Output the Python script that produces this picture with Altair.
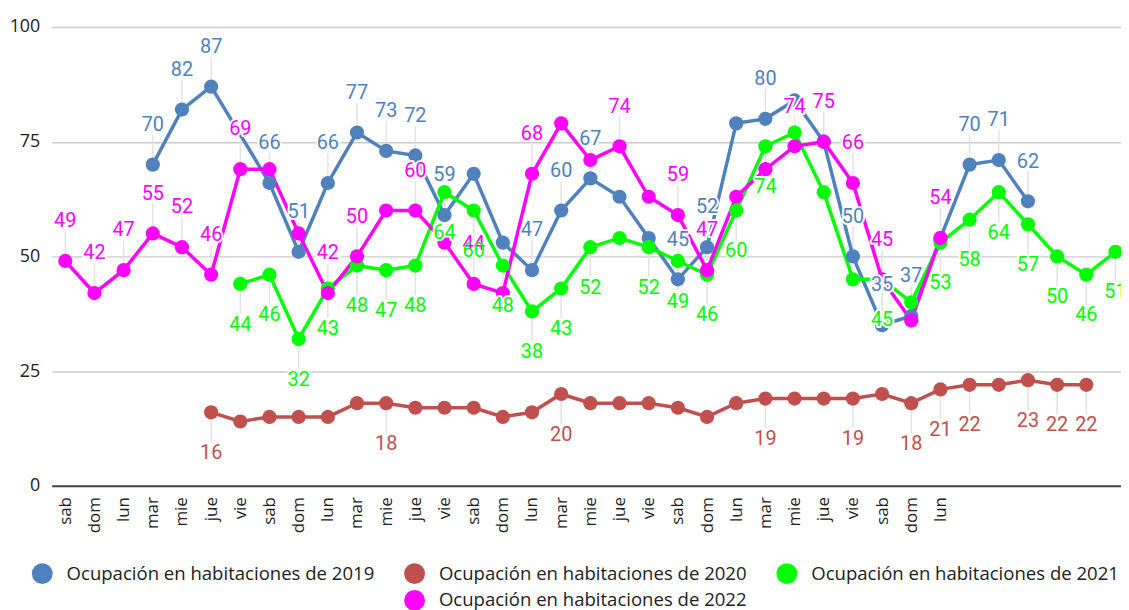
import json
import altair as alt
import pandas as pd

# ---- data ----
x_labels = ["sab", "dom", "lun", "mar", "mie", "jue", "vie",
            "sab", "dom", "lun", "mar", "mie", "jue", "vie",
            "sab", "dom", "lun", "mar", "mie", "jue", "vie",
            "sab", "dom", "lun", "mar", "mie", "jue", "vie",
            "sab", "dom", "lun", "", "", "", "", "", ""]

series_names = ["Ocupación en habitaciones de 2019",
                "Ocupación en habitaciones de 2020",
                "Ocupación en habitaciones de 2021",
                "Ocupación en habitaciones de 2022"]

v2019 = [None, None, None, 70, 82, 87, None, 66, 51, 66, 77, 73, 72, 59, 68, 53, 47, 60,
         67, 63, 54, 45, 52, 79, 80, 84, 75, 50, 35, 37, 54, 70, 71, 62, None, None, None]
v2020 = [None, None, None, None, None, 16, 14, 15, 15, 15, 18, 18, 17, 17, 17, 15, 16, 20,
         18, 18, 18, 17, 15, 18, 19, 19, 19, 19, 20, 18, 21, 22, 22, 23, 22, 22, None]
v2021 = [None, None, None, None, None, None, 44, 46, 32, 43, 48, 47, 48, 64, 60, 48, 38, 43,
         52, 54, 52, 49, 46, 60, 74, 77, 64, 45, 45, 40, 53, 58, 64, 57, 50, 46, 51]
v2022 = [49, 42, 47, 55, 52, 46, 69, 69, 55, 42, 50, 60, 60, 53, 44, 42, 68, 79,
         71, 74, 63, 59, 47, 63, 69, 74, 75, 66, 45, 36, 54, None, None, None, None, None, None]

# indices whose value annotation is not shown in the reference
hidden2019 = [14, 15, 19, 20, 23, 25, 26, 30]
hidden2020 = [6, 7, 8, 9, 10, 12, 13, 14, 15, 16, 18, 19, 20, 21, 22, 23, 25, 26, 28, 32]
hidden2021 = [19, 25, 26, 27, 29]
hidden2022 = [7, 8, 11, 13, 15, 17, 18, 20, 23, 24, 29]

colors = ["#4f81bd", "#c0504d", "#00ff00", "#ff00ff"]
label_side = ["above", "below", "below", "above"]

# ---- build long table ----
rows = []
for s, (name, vals, hid, side) in enumerate(zip(
        series_names, [v2019, v2020, v2021, v2022],
        [hidden2019, hidden2020, hidden2021, hidden2022], label_side)):
    for i, v in enumerate(vals):
        if v is None:
            continue
        rows.append({"idx": i, "value": v, "serie": name, "s": s,
                     "show": i not in hid, "side": side, "txt": str(v)})
df = pd.DataFrame(rows)

# legend domain holds an empty slot so that 2022 sits under 2020 (centred second row)
dummy = " "
leg_dom = series_names[:3] + [dummy] + series_names[3:]
leg_rng = colors[:3] + ["transparent"] + colors[3:]

xscale = alt.Scale(domain=[-0.466, 36.19], nice=False, zero=False)
yscale = alt.Scale(domain=[0, 100], nice=False)

label_js = json.dumps(x_labels)
X = alt.X("idx:Q", scale=xscale,
          axis=alt.Axis(values=list(range(37)), labelExpr=f"{label_js}[datum.value]",
                        ticks=False, grid=False, domain=True, domainColor="#444444",
                        domainWidth=2, labelAngle=-90, labelFont="Open Sans",
                        labelFontSize=17, labelColor="#222222", labelPadding=11,
                        labelOverlap=False, labelFlush=False, labelBound=False,
                        title=None))
Y = alt.Y("value:Q", scale=yscale,
          axis=alt.Axis(values=[0, 25, 50, 75, 100], ticks=False, domain=False,
                        grid=True, gridColor="#cccccc", gridWidth=1.5,
                        labelFont="Open Sans", labelFontSize=18, labelColor="#222222",
                        labelPadding=12, title=None))
Y2 = alt.Y2("value:Q")

base = alt.Chart(df)

stems_up = base.transform_filter("datum.show && datum.side == 'above'").mark_rule(
    color="#e3e3e3", strokeWidth=1.5, y2Offset=-30).encode(x=X, y=Y, y2=Y2)
stems_dn = base.transform_filter("datum.show && datum.side == 'below'").mark_rule(
    color="#e3e3e3", strokeWidth=1.5, y2Offset=30).encode(x=X, y=Y, y2=Y2)

lines = base.mark_line(strokeWidth=3.5).encode(
    x=X, y=Y,
    stroke=alt.Stroke("serie:N", scale=alt.Scale(domain=series_names, range=colors),
                      legend=None),
    order="idx:Q")

points = base.mark_circle(size=205, opacity=1).encode(
    x=X, y=Y,
    color=alt.Color("serie:N", scale=alt.Scale(domain=leg_dom, range=leg_rng),
                    legend=alt.Legend(title=None, orient="none", legendX=-20, legendY=540,
                                      direction="horizontal", columns=3,
                                      symbolType="circle", symbolSize=441,
                                      symbolStrokeWidth=0, labelFont="Open Sans",
                                      labelFontSize=18.7, labelColor="#222222",
                                      labelOffset=14, labelLimit=500, columnPadding=30,
                                      rowPadding=6, padding=0)),
    order="s:Q")

def txt_layer(side, dy, aura):
    t = base.transform_filter(f"datum.show && datum.side == '{side}'")
    if aura:
        m = t.mark_text(font="Roboto", fontSize=20, dy=dy, baseline="middle",
                        fill="white", stroke="white", strokeWidth=4, strokeJoin="round")
        return m.encode(x=X, y=Y, text="txt:N")
    m = t.mark_text(font="Roboto", fontSize=20, dy=dy, baseline="middle")
    return m.encode(x=X, y=Y, text="txt:N",
                    fill=alt.Fill("serie:N",
                                  scale=alt.Scale(domain=series_names, range=colors),
                                  legend=None))

chart = alt.layer(
    stems_up, stems_dn, lines, points,
    txt_layer("above", -40, True), txt_layer("below", 41, True),
    txt_layer("above", -40, False), txt_layer("below", 41, False),
).properties(
    width=1077, height=462,
    autosize=alt.AutoSizeParams(type="none"),
    padding={"left": 44, "top": 17, "right": 0, "bottom": 123},
).configure_view(stroke=None)

chart.save("out.html", embed_options={"renderer": "svg", "actions": False})
